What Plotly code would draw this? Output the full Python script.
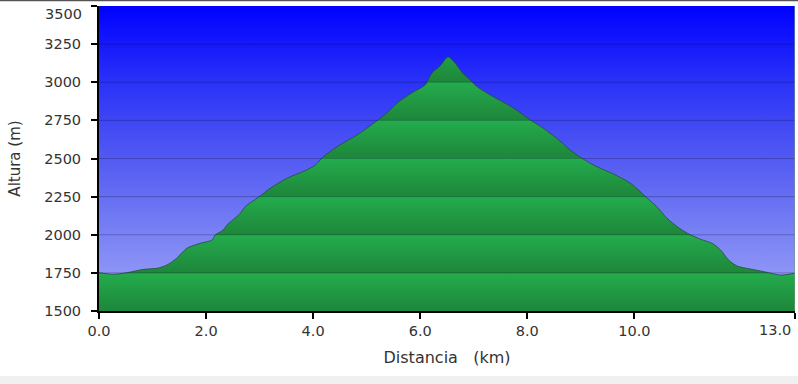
import plotly.graph_objects as go

# ---- data ----
distance_km = [0.0, 0.27, 0.52, 0.83, 1.08, 1.27, 1.45, 1.64, 1.89, 2.11, 2.17, 2.32, 2.39,
               2.64, 2.73, 2.98, 3.20, 3.51, 3.88, 4.04, 4.19, 4.50, 4.82, 5.13, 5.38,
               5.57, 5.87, 6.09, 6.22, 6.37, 6.52, 6.65, 6.79, 6.93, 7.07, 7.31, 7.74,
               8.06, 8.30, 8.55, 8.80, 9.05, 9.30, 9.61, 9.93, 10.24, 10.42, 10.61, 10.80,
               10.99, 11.24, 11.45, 11.61, 11.76, 11.92, 12.17, 12.42, 12.73, 12.98, 13.0]
altitude_m = [1751, 1741, 1751, 1773, 1780, 1802, 1846, 1911, 1944, 1965, 1998, 2031, 2064,
              2141, 2184, 2246, 2305, 2370, 2425, 2457, 2512, 2589, 2654, 2731, 2800,
              2864, 2936, 2982, 3061, 3107, 3166, 3126, 3061, 3015, 2969, 2916, 2831,
              2752, 2698, 2632, 2556, 2495, 2446, 2398, 2337, 2240, 2184, 2108, 2053,
              2010, 1970, 1944, 1900, 1834, 1795, 1775, 1758, 1736, 1747, 1750]

x_ticks = [0, 2, 4, 6, 8, 10, 13]
x_tick_labels = ["0.0", "2.0", "4.0", "6.0", "8.0", "10.0", "13.0"]
y_ticks = [1500, 1750, 2000, 2250, 2500, 2750, 3000, 3250, 3500]
y_tick_labels = [str(v) for v in y_ticks]

x_min, x_max = 0, 13
y_min, y_max = 1500, 3500

# ---- colour scales ----
blue_scale = [[0.0, "rgb(160,168,250)"], [0.25, "rgb(122,130,244)"],
              [0.5, "rgb(82,90,242)"], [0.75, "rgb(42,50,248)"], [1.0, "rgb(0,0,255)"]]

dark_g = "rgb(30,134,58)"
bright_g = "rgb(36,172,77)"
green_scale = []
n_bands = len(y_ticks) - 1
eps = 0.001
for i in range(n_bands):
    lo = i / n_bands
    hi = (i + 1) / n_bands
    green_scale.append([lo if i == 0 else lo + eps, dark_g])
    green_scale.append([hi, bright_g])

fig = go.Figure()

# sky background
fig.add_trace(go.Scatter(
    x=[x_min, x_max], y=[y_max, y_max], mode="none", fill="tozeroy",
    fillgradient=dict(type="vertical", colorscale=blue_scale, start=y_min, stop=y_max),
    hoverinfo="skip", showlegend=False))

# elevation profile
fig.add_trace(go.Scatter(
    x=distance_km, y=altitude_m, mode="lines", fill="tozeroy",
    line=dict(color="rgba(40,70,60,0.75)", width=1, shape="spline", smoothing=0.8),
    fillgradient=dict(type="vertical", colorscale=green_scale, start=y_min, stop=y_max),
    hoverinfo="skip", showlegend=False))

# horizontal grid lines drawn above the fills
shapes = []
for v in y_ticks[1:-1]:
    shapes.append(dict(type="line", xref="x", yref="y", x0=x_min, x1=x_max, y0=v, y1=v,
                       line=dict(color="rgba(0,0,40,0.25)", width=1), layer="above"))
# top dark rule and bottom grey strip of the page
shapes.append(dict(type="line", xref="paper", yref="paper", x0=-0.2, x1=1.1,
                   y0=1.0185, y1=1.0185, line=dict(color="#555555", width=2), layer="above"))
shapes.append(dict(type="rect", xref="paper", yref="paper", x0=-0.2, x1=1.1,
                   y0=-0.242, y1=-0.213, fillcolor="#f0f0f0", line=dict(width=0), layer="below"))
# right edge shadow
shapes.append(dict(type="line", xref="x", yref="paper", x0=x_max, x1=x_max, y0=0, y1=1,
                   line=dict(color="rgba(120,150,130,0.8)", width=1.5), layer="above"))

font_family = "DejaVu Sans, Verdana, sans-serif"
txt = "#333333"
tick_size = 14.5

# edge tick labels are kept inside the image (as in the reference): drawn as annotations
x_axis_text = x_tick_labels[:-1] + [""]
y_axis_text = y_tick_labels[:-1] + [""]
annotations = [
    dict(text=x_tick_labels[-1], x=x_ticks[-1], xref="x", y=0, yref="paper",
         xanchor="right", yanchor="top", xshift=-2, yshift=-9, showarrow=False,
         font=dict(size=tick_size, color=txt, family=font_family)),
    dict(text=y_tick_labels[-1], x=0, xref="paper", y=y_ticks[-1], yref="y",
         xanchor="right", yanchor="top", xshift=-15, yshift=2, showarrow=False,
         font=dict(size=tick_size, color=txt, family=font_family)),
]

fig.update_layout(
    width=798, height=384,
    margin=dict(l=99, r=3, t=6, b=73),
    paper_bgcolor="white", plot_bgcolor="white",
    shapes=shapes, annotations=annotations,
    font=dict(family=font_family, size=14, color=txt),
    xaxis=dict(range=[x_min, x_max], tickvals=x_ticks, ticktext=x_axis_text,
               automargin=False,
               showgrid=False, zeroline=False, showline=True, linecolor="black", linewidth=2,
               ticks="outside", ticklen=6, tickwidth=2, tickcolor="black",
               tickfont=dict(size=tick_size, color=txt), ticklabeloverflow="allow",
               title=dict(text="Distancia\u00a0\u00a0\u00a0(km)", standoff=13,
                          font=dict(size=16, color=txt)),
               layer="above traces"),
    yaxis=dict(range=[y_min, y_max], tickvals=y_ticks, ticktext=y_axis_text,
               automargin=False,
               showgrid=False, zeroline=False, showline=True, linecolor="black", linewidth=2,
               ticks="outside", ticklen=6, tickwidth=2, tickcolor="black",
               tickfont=dict(size=tick_size, color=txt), ticklabelstandoff=7,
               ticklabeloverflow="allow",
               title=dict(text="Altura (m)", standoff=20,
                          font=dict(size=15, color=txt)),
               layer="above traces"),
)

fig.write_html("out.html")
